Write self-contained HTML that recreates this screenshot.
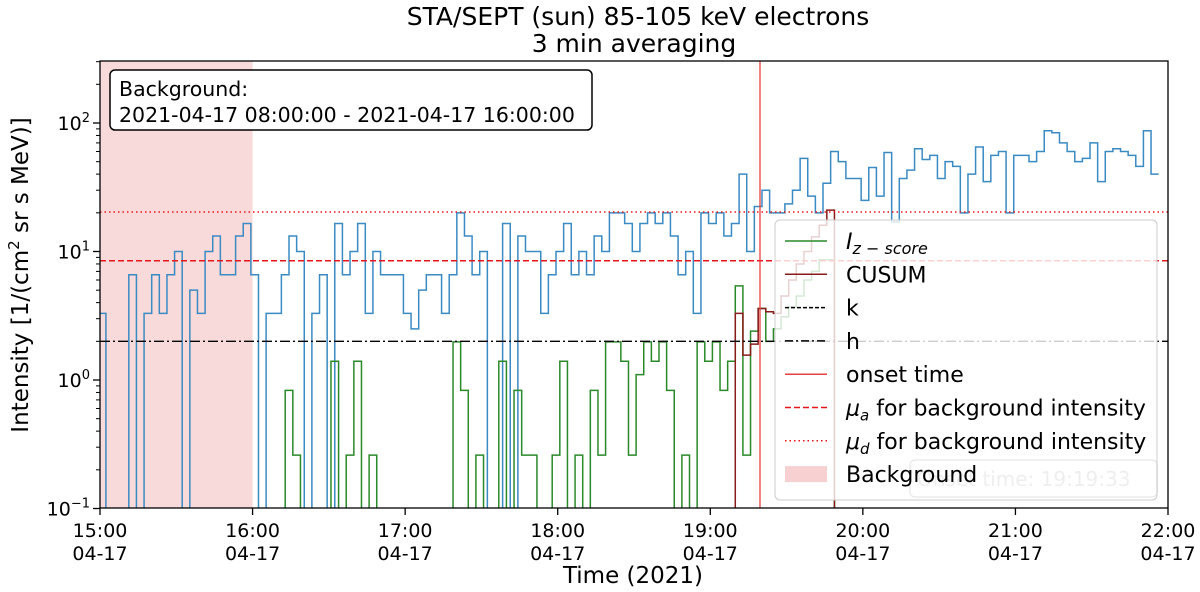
<!DOCTYPE html>
<html><head><meta charset="utf-8"><style>
html,body{margin:0;padding:0;background:#fff;}
svg{display:block;font-family:"DejaVu Sans","Liberation Sans",sans-serif;}
</style></head><body>
<svg id="chart" width="1200" height="592" viewBox="0 0 1200 592">
<defs><clipPath id="pc"><rect x="100" y="61" width="1068" height="447"/></clipPath></defs>
<text x="638" y="25" font-size="25" text-anchor="middle">STA/SEPT (sun) 85-105 keV electrons</text>
<text x="634" y="52" font-size="25" text-anchor="middle">3 min averaging</text>
<g id="plot" clip-path="url(#pc)"></g>
<g id="axes"></g>
<text x="633" y="583" font-size="23" text-anchor="middle">Time (2021)</text>
<text transform="translate(28,275) rotate(-90)" font-size="23" text-anchor="middle">Intensity [1/(cm<tspan font-size="15" dy="-9">2</tspan><tspan dy="9"> sr s MeV)]</tspan></text>
<g>
<rect x="110" y="70" width="482" height="60" rx="5" fill="#fff" stroke="#000" stroke-width="1.5"/>
<text x="119" y="96" font-size="20.5">Background:</text>
<text x="119" y="122" font-size="20.5">2021-04-17 08:00:00 - 2021-04-17 16:00:00</text>
</g>
<g>
<rect x="910" y="460" width="247" height="37" rx="5" fill="#fff" stroke="#888" stroke-width="1.2"/>
<text x="917" y="486" font-size="20" fill="#aaa">Onset time: 19:19:33</text>
</g>
<g id="legend">
<rect x="775" y="220" width="382" height="280" rx="5" fill="#fff" fill-opacity="0.8" stroke="#ccc" stroke-width="1"/>
</g>
</svg>
<script>
const blueVals=[3.3,0,0,0,6.6,0,3.3,6.6,3.3,6.6,10,0,5,3.3,10,13.2,6.6,6.6,13.2,16.5,6.6,0,3.3,3.3,6.6,13.2,10,0,3.3,6.6,0,16.5,6.6,10,16.5,3.3,10,6.6,6.6,6.6,3.3,2.5,5,6.6,6.6,3.3,6.6,20,13.2,6.6,10,0,0,16.5,0,13.2,10,10,3.3,6.6,10,16.5,6.6,10,6.6,13.2,10,20,20,16.5,10,16.5,20,16.5,20,13.2,6.6,10,3.3,20,16.5,20,13.2,16.5,40,10,22.4,30,20,20,23.5,30,53,27,20,34,60,50,37,37,25,45,27,59,17,37,43,63,52,56,37,50,46,20,40,65,35,56,60,20,56,56,50,60,87,84,70,60,50,53,70,35,60,63,60,56,46,87,40];
const zVals=[0,0,0,0,0,0,0,0,0,0,0,0,0,0,0,0,0,0,0,0,0,0,0,0,0.83,0.26,0,0,0,0,1.4,0,0.26,1.4,0,0.26,0,0,0,0,0,0,0,0,0,0,1.98,0.83,0,0.26,0,0,1.4,0,0.83,0.26,0.26,0,0,0.26,1.4,0,0.26,0,0.83,0.26,1.98,1.98,1.4,0.26,1.1,1.98,1.4,1.98,0.83,0,0.26,0,1.98,1.4,1.98,0.83,1.4,5.4,0.26,2.4,3.6,2.0,2.5,3.1,3.7,4.5,6,7,8.6,8.6,0];
const cusumVals=[3.3,1.56,1.9,3.6,3.4,3.3,4.5,6,8,10,13,16,21,0];
const cusumStart=83;
const muA=8.47, muD=20.3, hVal=2.0, onsetMin=259.55;
const xTickLabels=["15:00","16:00","17:00","18:00","19:00","20:00","21:00","22:00"];
const yTickExp=[-1,0,1,2];

const X0=100,X1=1168,YB=508,DEC=128.5,Y2=123;
const x=m=>X0+m*(X1-X0)/420;
const y=v=>v<=0?YB+40:Y2-(Math.log10(v)-2)*DEC;
const NS="http://www.w3.org/2000/svg";
const plot=document.getElementById('plot'),axes=document.getElementById('axes'),leg=document.getElementById('legend');
function mk(tag,at,parent){const e=document.createElementNS(NS,tag);for(const k in at)e.setAttribute(k,at[k]);parent.appendChild(e);return e;}
function stepPath(vals,off,start){let d="";vals.forEach((v,i)=>{const a=x(off+3*(i+start)),b=x(off+3*(i+start+1));d+=(i?"L":"M")+a+","+y(v)+"L"+b+","+y(v);});return d;}

let bg=mk('rect',{x:x(-5),y:61,width:x(60)-x(-5),height:447,fill:'#f4c2c2','fill-opacity':0.6},plot);


let lb=mk('path',{d:stepPath(blueVals,-0.67,0),fill:'none',stroke:'#3a8ac4','stroke-width':1.5},plot);


let lg=mk('path',{d:stepPath(zVals,0.83,0),fill:'none',stroke:'#2a8a2a','stroke-width':1.5},plot);


let lc=mk('path',{d:"M"+x(0.83+3*cusumStart)+","+(YB+40)+"L"+stepPath(cusumVals,0.83,cusumStart).slice(1),fill:'none',stroke:'#8b1a1a','stroke-width':1.5},plot);


let lh=mk('line',{x1:X0,x2:X1,y1:y(hVal),y2:y(hVal),stroke:'#000','stroke-width':1.3,'stroke-dasharray':'10,3,2,3'},plot);


let lma=mk('line',{x1:X0,x2:X1,y1:y(muA),y2:y(muA),stroke:'#e8151b','stroke-width':1.5,'stroke-dasharray':'6,3'},plot);


let lmd=mk('line',{x1:X0,x2:X1,y1:y(muD),y2:y(muD),stroke:'#e8151b','stroke-width':1.5,'stroke-dasharray':'1.5,3'},plot);


let lo=mk('line',{x1:x(onsetMin),x2:x(onsetMin),y1:61,y2:YB,stroke:'#e84040','stroke-width':1.3},plot);



mk('rect',{x:X0,y:61,width:X1-X0,height:YB-61,fill:'none',stroke:'#000','stroke-width':1.3},axes);
xTickLabels.forEach((t,i)=>{const px=x(i*60);
 mk('line',{x1:px,x2:px,y1:YB,y2:YB+7,stroke:'#000','stroke-width':1.3},axes);
 const a=mk('text',{x:px,y:YB+29,'font-size':19,'text-anchor':'middle'},axes);a.textContent=t;
 
 
 const b=mk('text',{x:px,y:YB+52,'font-size':19,'text-anchor':'middle'},axes);b.textContent="04-17";
 
 });
yTickExp.forEach(e=>{const py=y(Math.pow(10,e));
 mk('line',{x1:X0-7,x2:X0,y1:py,y2:py,stroke:'#000','stroke-width':1.3},axes);
 const t=mk('text',{x:X0-10,y:py+7,'font-size':19,'text-anchor':'end'},axes);
 t.innerHTML='10<tspan font-size="13" dy="-8">'+(e<0?'\u2212'+(-e):e)+'</tspan>';
 
 
 for(let k=2;k<10;k++){const v=k*Math.pow(10,e);const yy=y(v);if(yy>61)mk('line',{x1:X0-4,x2:X0,y1:yy,y2:yy,stroke:'#000','stroke-width':1},axes);}});

const items=[["I","#2a8a2a","",0],["CUSUM","#8b1a1a","",0],["k","#000","4,2",0],["h","#000","8,3,2,3",0],["onset time","#e84040","",0],["\u03bc","#e8151b","6,3",1],["\u03bc","#e8151b","1.5,3",2],["Background","",null,0]];
items.forEach((it,i)=>{const yy=241+i*33.3;
 if(it[2]===null){mk('rect',{x:785,y:yy-8,width:42,height:16,fill:'#f4c2c2','fill-opacity':0.75},leg);}
 else mk('line',{x1:785,x2:827,y1:yy,y2:yy,stroke:it[1],'stroke-width':1.5,'stroke-dasharray':it[2]||'none'},leg);
 const t=mk('text',{x:846,y:yy+8,'font-size':22},leg);
 if(i===0)t.innerHTML='<tspan font-style="italic">I</tspan><tspan font-style="italic" font-size="16" dy="5">z \u2212 score</tspan>';
 else if(it[3]===1)t.innerHTML='<tspan font-style="italic">\u03bc</tspan><tspan font-style="italic" font-size="15" dy="5">a</tspan><tspan dy="-5"> for background intensity</tspan>';
 else if(it[3]===2)t.innerHTML='<tspan font-style="italic">\u03bc</tspan><tspan font-style="italic" font-size="15" dy="5">d</tspan><tspan dy="-5"> for background intensity</tspan>';
 else t.textContent=it[0];
 
 });
</script>
</body></html>
